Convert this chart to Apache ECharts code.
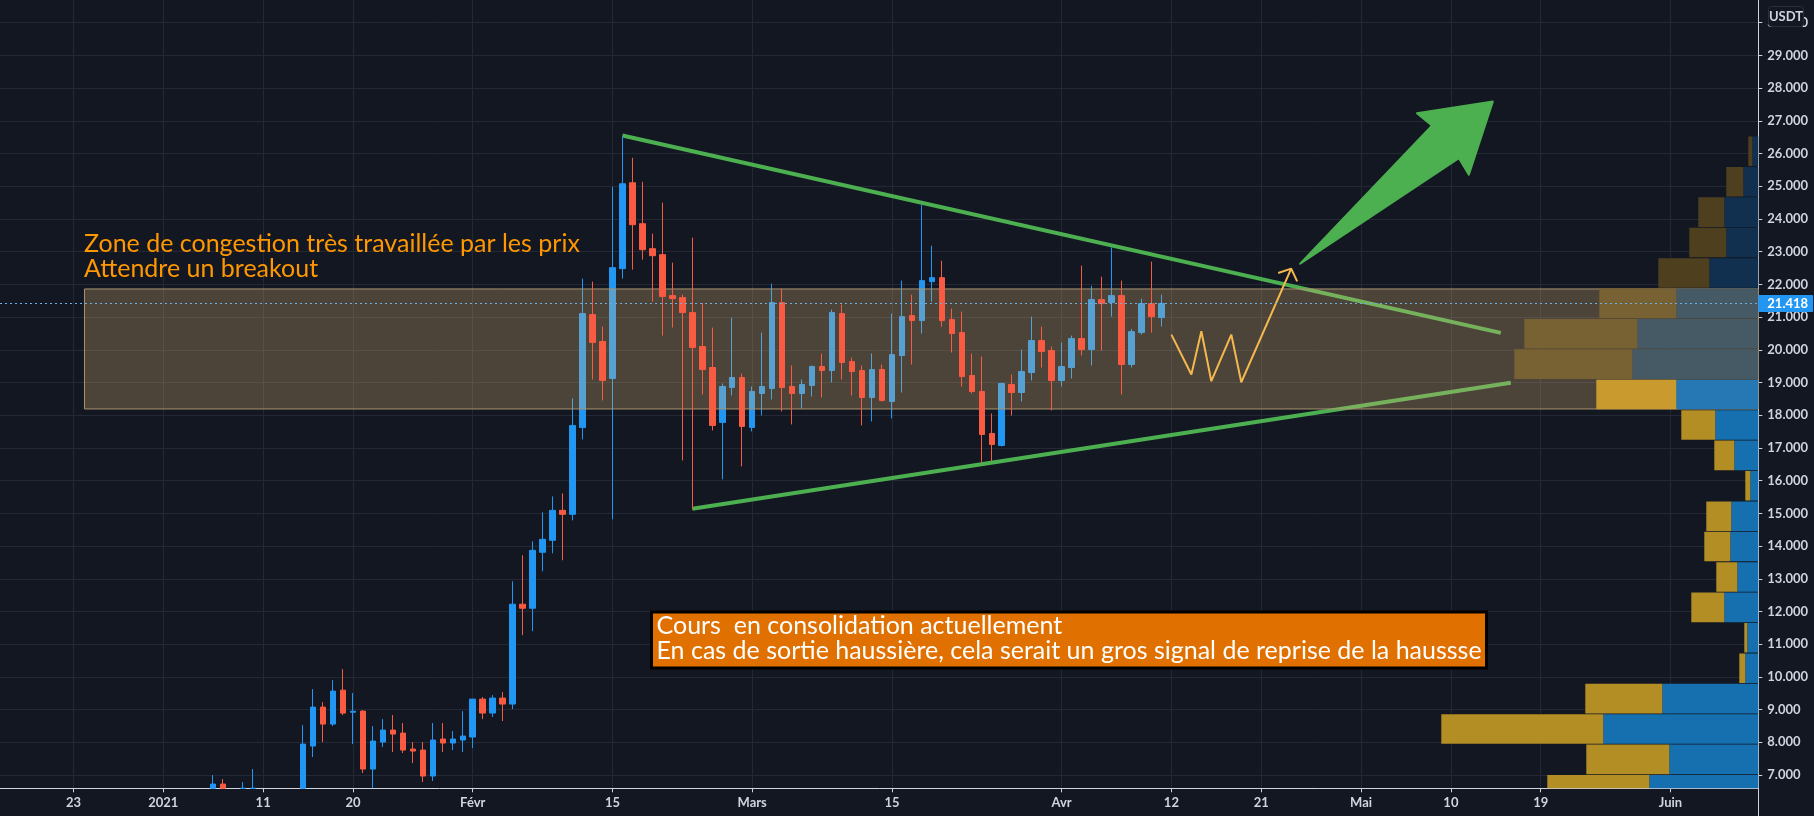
<!DOCTYPE html>
<html lang="fr">
  <head>
    <meta charset="UTF-8" />
    <title>Zone de congestion</title>
    <script src="https://cdn.jsdelivr.net/npm/echarts@6/dist/echarts.min.js"></script>
    <style>
      html, body { margin: 0; background: #131722; }
      #app { width: 1814px; height: 816px; }
    </style>
  </head>
  <body>
    <div id="app"></div>
    <script>
      // jours comptes depuis le 1er janvier 2021
      const candleDays = [5,6,8,9,14,15,16,17,18,19,20,21,22,23,24,25,26,27,28,29,30,31,32,33,34,35,36,37,38,39,40,41,42,43,44,45,46,47,48,49,50,51,52,53,54,55,56,57,58,59,60,61,62,63,64,65,66,67,68,69,70,71,72,73,74,75,76,77,78,79,80,81,82,83,84,85,86,87,88,89,90,91,92,93,94,95,96,97,98,99,100];
      // les bas de bougies caches sous l'axe sont ramenes au bas du graphique
      const opens = [6594,6724,6594,6594,6594,7885,9076,8557,9595,8920,8954,7183,8007,8374,8282,7793,7763,6970,8100,7978,8069,8161,9321,8894,9352,9169,12222,12099,13809,14176,15092,14970,17626,21077,20253,19123,22481,25107,23855,23092,22909,21657,21596,21138,20100,19459,17779,18848,19153,17626,18665,18817,21443,18878,18665,18909,19489,19367,21107,19641,19367,18542,19397,18420,19825,21046,20893,22084,22206,20924,20527,19214,18725,17443,17077,18939,18695,19306,20283,19977,19061,19458,20344,20008,21535,21443,21657,19550,20527,21412,20985];
      const closes = [6724,6594,6594,6594,7946,9076,8557,9565,8893,8950,7183,8038,8374,8252,7763,7732,6969,8069,7978,8100,8191,9321,8894,9352,9169,12222,12099,13870,14206,15092,14970,17688,21107,20222,19062,22512,25077,23825,23062,22878,21627,21565,21138,20069,19397,17688,18878,19153,17657,18726,18878,21443,18848,18665,18939,19489,19367,21138,19611,19336,18542,19397,18451,19855,21015,20893,22115,22206,20893,20496,19183,18725,17412,17107,18970,18695,19336,20283,19947,19061,19489,20344,20008,21535,21412,21657,19550,20557,21412,21015,21418];
      const lows = [6594,6594,6594,6594,6594,7549,8007,8496,8832,7946,7061,6594,7855,7702,7671,7366,6786,6817,7703,7764,7703,7825,8711,8772,8650,9016,11275,11397,13229,13779,13565,14786,17260,19092,18451,14817,22176,22451,22756,21474,20436,20680,16619,15123,18634,17535,16039,18604,16436,17504,17993,18481,18115,17718,18207,18573,18542,19001,19092,18603,17687,17809,18420,17901,18695,19550,20496,21474,20710,19916,18878,18664,16547,16598,17046,17993,18420,19061,19458,18145,18878,19122,19825,19519,19977,21015,18634,19458,20466,20527,20710];
      const highs = [6999,6877,6786,7183,8526,9626,9229,9901,10237,9504,8984,8496,8710,8832,8588,8007,8007,8588,8588,8344,8955,9321,9382,9443,9535,12924,13718,14145,15031,15519,15611,18512,22176,22084,20710,24985,26522,25871,25138,23550,24497,22665,21687,23428,21433,20680,18970,20985,19275,18878,20527,22023,21871,19520,19092,19520,19886,21230,21382,19764,19519,19886,19550,21107,22115,21687,24435,23183,22725,21260,21168,19886,19794,18054,19000,19245,20008,21015,20710,20099,20222,20435,22573,21962,22237,23133,22115,20639,21565,22695,21687];

      const lastPrice = 21418;
      const priceTicks = [7000,8000,9000,10000,11000,12000,13000,14000,15000,16000,17000,18000,19000,20000,21000,22000,23000,24000,25000,26000,27000,28000,29000,30000];
      const tickDays = [-9,0,10,19,31,45,59,73,90,101,110,120,129,138,151];
      const tickLabels = ['23','2021','11','20','Févr','15','Mars','15','Avr','12','21','Mai','10','19','Juin'];

      // profil de volume : haut de chaque tranche, volumes vendeurs et acheteurs
      const profileTops = [7000,7930,8859,9789,10718,11648,12578,13507,14437,15366,16296,17226,18155,19085,20014,20944,21873,22803,23733,24662,25592,26522];
      const profileSell = [102,83,162,77,6,3,33,21,26,25,5,20,34,80,118,113,77,51,37,26,17,4];
      const profileBuy = [109,89,155,96,13,11,34,21,28,27,8,24,43,82,126,121,82,49,32,34,15,6];

      const zoneDays = [-7.9, 159.8];
      const zonePrices = [18191, 21861];
      const trendTopDays = [46, 134];
      const trendTopPrices = [26551, 20517];
      const trendBottomDays = [53, 135];
      const trendBottomPrices = [15143, 18991];
      const pathDays = [101,103,104,105,107,108,113,111.7,113,113.6];
      const pathPrices = [20466,19244,20566,19040,20466,19009,22481,22350,22481,22093];
      const arrowDays = [113.9,127.1,125.6,133.2,130.8,129.8];
      const arrowPrices = [22634,26856,27235,27589,25351,25861];

      const BLUE = "#2196f3";
      const RED = "#f95a42";
      const GREEN = "#4caf50";
      const TEXT = "#d1d4dc";
      const GRID = "#232834";
      const FONT = "Lato, 'Open Sans', sans-serif";

      const pairs = (days, prices) => days.map((d, i) => [d, prices[i]]);

      const upCandles = [];
      const downCandles = [];
      candleDays.forEach((d, i) => {
        const row = [d, opens[i], closes[i], lows[i], highs[i]];
        (closes[i] >= opens[i] ? upCandles : downCandles).push(row);
      });

      function candleSeries(name, data, color, z) {
        return {
          name: name,
          type: "candlestick",
          data: data,
          barWidth: 6,
          z: z,
          encode: { x: 0, y: [1, 2, 3, 4] },
          itemStyle: {
            color: color,
            color0: color,
            borderColor: color,
            borderColor0: color,
            borderWidth: 1,
          },
        };
      }

      function lineSeries(name, data, color, width, z) {
        return {
          name: name,
          type: "line",
          data: data,
          showSymbol: false,
          symbol: "none",
          z: z,
          lineStyle: { color: color, width: width },
        };
      }

      function rowColors(top) {
        if (top > 21900) return ["#4e3f1f", "#11304f"];
        if (top > 19100) return ["#786233", "#465a66"];
        if (top > 18200) return ["#c99a2e", "#2678b4"];
        return ["#b38e25", "#1670b0"];
      }

      const chart = echarts.init(document.getElementById("app"));

      chart.setOption({
        animation: false,
        backgroundColor: "#131722",
        textStyle: { fontFamily: FONT },
        grid: { left: 0, right: 55.7, top: 0, bottom: 27.7 },
        xAxis: [
          {
            type: "value",
            min: -16.363,
            max: 159.8,
            axisLine: { onZero: false, lineStyle: { color: TEXT, width: 1 } },
            axisTick: { length: 4, lineStyle: { color: TEXT }, customValues: tickDays },
            splitLine: { show: true, lineStyle: { color: GRID, width: 1 } },
            axisLabel: {
              customValues: tickDays,
              color: TEXT,
              fontSize: 13,
              fontFamily: FONT,
              fontWeight: 700,
              margin: 8,
              hideOverlap: false,
              formatter: (v) => tickLabels[tickDays.indexOf(v)],
            },
          },
          // axe des volumes, depuis la droite
          { type: "value", inverse: true, min: 0, max: 1758.3, show: false },
        ],
        yAxis: {
          type: "value",
          position: "right",
          min: 6594,
          max: 30695,
          axisLine: { show: true, onZero: false, lineStyle: { color: TEXT, width: 1 } },
          axisTick: { show: true, length: 4, lineStyle: { color: TEXT }, customValues: priceTicks },
          splitLine: { show: true, lineStyle: { color: GRID, width: 1 } },
          axisLabel: {
            customValues: priceTicks,
            color: TEXT,
            fontSize: 13,
            fontFamily: FONT,
            fontWeight: 700,
            margin: 9,
            formatter: (v) => (v / 1000).toFixed(3),
          },
        },
        series: [
          candleSeries("Hausse", upCandles, BLUE, 2),
          lineSeries("Resistance", pairs(trendTopDays, trendTopPrices), GREEN, 4, 2),
          lineSeries("Support", pairs(trendBottomDays, trendBottomPrices), GREEN, 4, 2),
          {
            name: "Zone",
            type: "custom",
            z: 3,
            data: [[zoneDays[0], zonePrices[0], zoneDays[1], zonePrices[1]]],
            renderItem: (params, api) => {
              const a = api.coord([api.value(0), api.value(1)]);
              const b = api.coord([api.value(2), api.value(3)]);
              return {
                type: "rect",
                shape: { x: a[0], y: b[1], width: b[0] - a[0], height: a[1] - b[1] },
                style: { fill: "rgba(234,190,123,0.27)", stroke: "#a8946f", lineWidth: 1 },
              };
            },
            markLine: {
              silent: true,
              symbol: "none",
              animation: false,
              z: 6,
              lineStyle: { color: "#6ab0e8", type: [2, 3], width: 1 },
              label: {
                position: "end",
                distance: 0,
                formatter: (p) => (p.value / 1000).toFixed(3),
                color: "#fff",
                fontSize: 13,
                fontFamily: FONT,
                fontWeight: 700,
                backgroundColor: BLUE,
                padding: [2, 5, 2, 9],
                borderRadius: 1,
              },
              data: [{ yAxis: lastPrice }],
            },
          },
          candleSeries("Baisse", downCandles, RED, 4),
          {
            name: "Profil",
            type: "custom",
            xAxisIndex: 1,
            z: 4,
            clip: true,
            data: profileTops.map((top, i) => [top, profileSell[i], profileBuy[i]]),
            renderItem: (params, api) => {
              const top = api.value(0);
              const buy = api.value(2);
              const all = buy + api.value(1);
              const bottom = top - 905;
              const colors = rowColors(top);
              const p0 = api.coord([0, top]);
              const p1 = api.coord([buy, bottom]);
              const p2 = api.coord([all, bottom]);
              return {
                type: "group",
                children: [
                  {
                    type: "rect",
                    shape: { x: p1[0], y: p0[1], width: p0[0] - p1[0], height: p1[1] - p0[1] },
                    style: { fill: colors[1] },
                  },
                  {
                    type: "rect",
                    shape: { x: p2[0], y: p0[1], width: p1[0] - p2[0], height: p2[1] - p0[1] },
                    style: { fill: colors[0] },
                  },
                ],
              };
            },
          },
          lineSeries("Scenario", pairs(pathDays, pathPrices), "#f5b84f", 2, 5),
          {
            name: "Fleche",
            type: "custom",
            z: 5,
            data: [[arrowDays[0], arrowPrices[0]]],
            renderItem: (params, api) => ({
              type: "polygon",
              shape: { points: arrowDays.map((d, i) => api.coord([d, arrowPrices[i]])) },
              style: { fill: GREEN, stroke: GREEN, lineWidth: 2, lineJoin: "round" },
            }),
          },
        ],
        graphic: [
          {
            type: "text",
            z: 100,
            x: 84,
            y: 232,
            style: {
              text: "Zone de congestion très travaillée par les prix\nAttendre un breakout",
              fill: "#ff9800",
              font: "25px " + FONT,
              lineHeight: 24.5,
            },
          },
          {
            type: "rect",
            z: 100,
            shape: { x: 651.5, y: 612, width: 835, height: 56 },
            style: { fill: "#e07000", stroke: "#000", lineWidth: 3 },
          },
          {
            type: "text",
            z: 101,
            x: 656.5,
            y: 614,
            style: {
              text: "Cours  en consolidation actuellement\nEn cas de sortie haussière, cela serait un gros signal de reprise de la haussse",
              fill: "#fff",
              font: "25px " + FONT,
              lineHeight: 24.5,
            },
          },
          {
            type: "rect",
            z: 100,
            shape: { x: 1768.5, y: 6.5, width: 35, height: 20, r: 3 },
            style: { fill: "#131722", stroke: "#2a2e39", lineWidth: 1 },
          },
          {
            type: "text",
            z: 101,
            x: 1786,
            y: 16.5,
            style: {
              text: "USDT",
              fill: TEXT,
              font: "700 13px " + FONT,
              align: "center",
              verticalAlign: "middle",
            },
          },
          {
            type: "line",
            z: 100,
            shape: { x1: 1758.5, y1: 788, x2: 1758.5, y2: 816 },
            style: { stroke: TEXT, lineWidth: 1 },
          },
        ],
      });
    </script>
  </body>
</html>
